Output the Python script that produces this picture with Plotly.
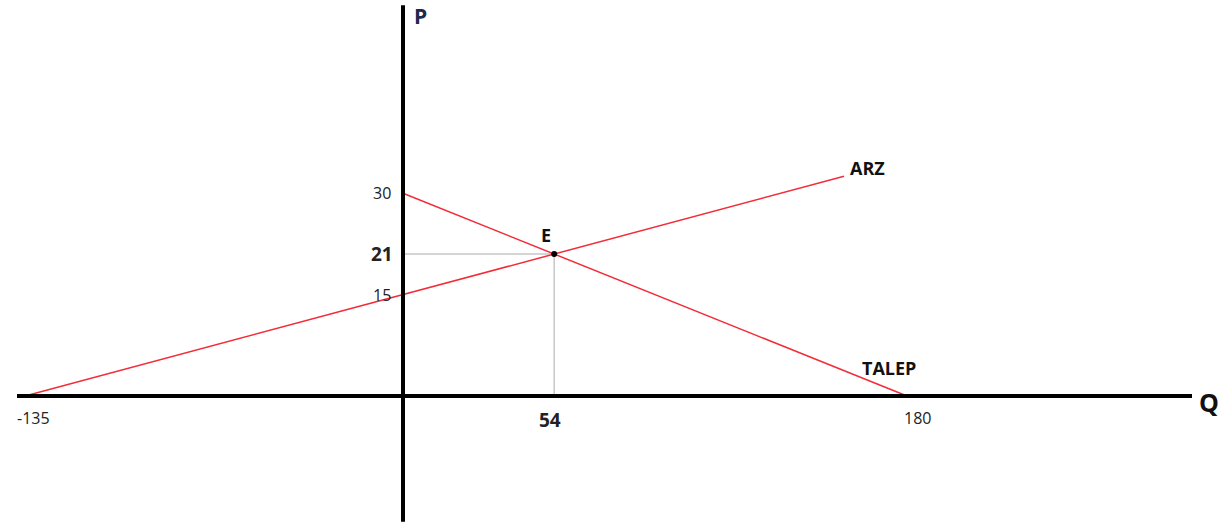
import plotly.graph_objects as go

# Market equilibrium: supply (ARZ) and demand (TALEP)
arz_q = [-135, 157.5]
arz_p = [0, 32.5]
talep_q = [0, 180]
talep_p = [30, 0]
eq_q = 54
eq_p = 21

p_ticks = [30, 21, 15]
p_tick_bold = [False, True, False]
q_ticks = [-135, 54, 180]
q_tick_bold = [False, True, False]

RED = "#f22c38"
FONT = "Open Sans, Liberation Sans, Arial, sans-serif"

fig = go.Figure()

# guide lines to the equilibrium point
fig.add_trace(go.Scatter(x=[0, eq_q, eq_q], y=[eq_p, eq_p, 0], mode="lines",
                         line=dict(color="#c8c8c8", width=1.5), hoverinfo="skip"))

fig.add_trace(go.Scatter(x=arz_q, y=arz_p, mode="lines",
                         line=dict(color=RED, width=1.5), name="ARZ"))
fig.add_trace(go.Scatter(x=talep_q, y=talep_p, mode="lines",
                         line=dict(color=RED, width=1.5), name="TALEP"))
fig.add_trace(go.Scatter(x=[eq_q], y=[eq_p], mode="markers",
                         marker=dict(color="black", size=6), name="E"))

# axis lines
fig.add_shape(type="line", xref="x", yref="paper", x0=0, x1=0, y0=0.006, y1=0.99,
              line=dict(color="black", width=4))
fig.add_shape(type="line", xref="paper", yref="y", x0=17 / 1229, x1=1192 / 1229, y0=0, y1=0,
              line=dict(color="black", width=4))

ann = []
for v, b in zip(p_ticks, p_tick_bold):
    ann.append(dict(x=0, y=v, xref="x", yref="y", text=f"<b>{v}</b>" if b else str(v),
                    showarrow=False, xanchor="right", xshift=-8 if b else -10,
                    font=dict(size=19 if b else 16, color="#222")))
for v, b in zip(q_ticks, q_tick_bold):
    ann.append(dict(x=v, y=0, xref="x", yref="y", text=f"<b>{v}</b>" if b else str(v),
                    showarrow=False, yanchor="top", yshift=-9,
                    xshift=8 if v < 0 else (10 if v == 180 else -4),
                    font=dict(size=19 if b else 16, color="#222")))
ann += [
    dict(x=0, y=1.0, xref="x", yref="paper", text="<b>P</b>", showarrow=False,
         xanchor="left", yanchor="top", xshift=9, yshift=0, font=dict(size=21, color="#1a2a50")),
    dict(x=1197 / 1229, y=0, xref="paper", yref="y", text="<b>Q</b>", showarrow=False,
         xanchor="left", yshift=-6, font=dict(size=25, color="#111")),
    dict(x=arz_q[1], y=arz_p[1], xref="x", yref="y", text="<b>ARZ</b>", showarrow=False,
         xanchor="left", xshift=4, yshift=8, font=dict(size=18, color="#111")),
    dict(x=talep_q[1], y=talep_p[1], xref="x", yref="y", text="<b>TALEP</b>", showarrow=False,
         xanchor="center", yanchor="bottom", xshift=-18, yshift=14, font=dict(size=18, color="#111")),
    dict(x=eq_q, y=eq_p, xref="x", yref="y", text="<b>E</b>", showarrow=False,
         yanchor="bottom", xshift=-8, yshift=5, font=dict(size=18, color="#111")),
]

fig.update_layout(
    width=1229, height=525,
    margin=dict(l=0, r=0, t=0, b=0),
    paper_bgcolor="white", plot_bgcolor="white",
    showlegend=False,
    font=dict(family=FONT),
    xaxis=dict(range=[-403 / 2.8, (1229 - 403) / 2.8], visible=False, fixedrange=True),
    yaxis=dict(range=[-(525 - 396) / 6.76, 396 / 6.76], visible=False, fixedrange=True),
    annotations=ann,
)

fig.write_html("out.html")
